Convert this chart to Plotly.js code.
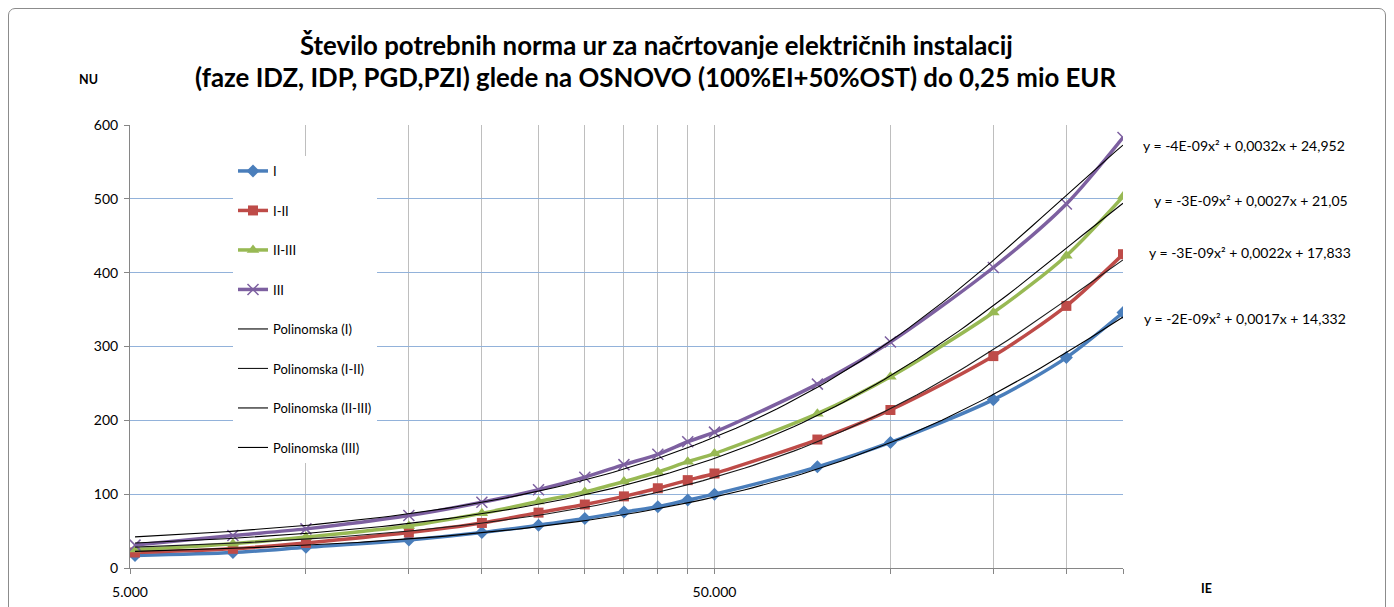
<!DOCTYPE html>
<html>
<head>
<meta charset="utf-8">
<script src="https://cdn.plot.ly/plotly-3.0.1.min.js"></script>
<style>
  html, body { margin: 0; padding: 0; background: #fff; }
  #wrap { position: relative; width: 1394px; height: 607px; overflow: hidden; }
  #chart { width: 1394px; height: 607px; }
  #frame { position: absolute; left: 8px; top: 8px; width: 1376px; height: 640px;
           border: 1px solid #8c8c8c; border-radius: 7px; pointer-events: none; }
</style>
</head>
<body>
<div id="wrap"><div id="chart"></div><div id="frame"></div></div>
<script>
// ---- data ----
const ieValues = [5100, 7500, 10000, 15000, 20000, 25000, 30000, 35000, 40000, 45000, 50000, 75000, 100000, 150000, 200000, 250000];
const seriesNames = ['I', 'I-II', 'II-III', 'III'];
const nuI    = [17, 21, 28, 38, 48, 58, 67, 76, 83, 92, 100, 137, 170, 228, 285, 346];
const nuI_II = [21, 26, 34, 48, 61, 75, 86, 97, 108, 119, 128, 174, 214, 287, 355, 425];
const nuII_III = [25, 33, 42, 57, 74, 90, 103, 117, 130, 144, 155, 209, 259, 346, 423, 503];
const nuIII  = [31, 44, 53, 71, 89, 106, 123, 140, 154, 171, 184, 249, 306, 407, 493, 583];
const trendNames = ['Polinomska (I)', 'Polinomska (I-II)', 'Polinomska (II-III)', 'Polinomska (III)'];
const equations = [
  'y = -2E-09x² + 0,0017x + 14,332',
  'y = -3E-09x² + 0,0022x + 17,833',
  'y = -3E-09x² + 0,0027x + 21,05',
  'y = -4E-09x² + 0,0032x + 24,952'
];
const titleLines = [
  'Število potrebnih norma ur za načrtovanje električnih instalacij',
  '(faze IDZ, IDP, PGD,PZI) glede na OSNOVO (100%EI+50%OST) do 0,25 mio EUR'
];
const xTickVals = [5000, 10000, 15000, 20000, 25000, 30000, 35000, 40000, 45000, 50000, 100000, 150000, 200000, 250000];
const xTickText = ['5.000', '', '', '', '', '', '', '', '', '50.000', '', '', '', ''];
const yTickVals = [0, 100, 200, 300, 400, 500, 600];

// ---- styles ----
const FONT = 'Lato, "Open Sans", "DejaVu Sans", sans-serif';
const colors = ['#4A7EBB', '#BE4B48', '#98B954', '#7D60A0'];
const trendColors = ['#000000', '#1a1a1a', '#000000', '#000000'];
const symbols = ['diamond', 'square', 'triangle-up', 'x-thin'];
const msizes = [10, 10, 11, 11];
const eqY = [318, 252, 200, 145];
const eqX = [1143, 1148, 1153, 1142];
const titleY = [45, 77];

const allSeries = [nuI, nuI_II, nuII_III, nuIII];

// least-squares quadratic (Excel polynomial trendline, order 2)
function polyfit2(xs, ys) {
  const s = 1e5;
  let S = [0,0,0,0,0], T = [0,0,0];
  for (let i = 0; i < xs.length; i++) {
    const x = xs[i] / s, y = ys[i];
    let p = 1;
    for (let k = 0; k < 5; k++) { S[k] += p; if (k < 3) T[k] += p * y; p *= x; }
  }
  const A = [[S[0],S[1],S[2],T[0]],[S[1],S[2],S[3],T[1]],[S[2],S[3],S[4],T[2]]];
  for (let i = 0; i < 3; i++) {
    for (let j = i + 1; j < 3; j++) {
      const f = A[j][i] / A[i][i];
      for (let k = i; k < 4; k++) A[j][k] -= f * A[i][k];
    }
  }
  const c = [0,0,0];
  for (let i = 2; i >= 0; i--) {
    let v = A[i][3];
    for (let k = i + 1; k < 3; k++) v -= A[i][k] * c[k];
    c[i] = v / A[i][i];
  }
  return x => c[0] + c[1] * (x / s) + c[2] * (x / s) * (x / s);
}

const traces = [];
allSeries.forEach((ys, i) => {
  traces.push({
    type: 'scatter', mode: 'lines+markers', name: seriesNames[i],
    x: ieValues, y: ys, legendgroup: 'g' + i,
    line: { color: colors[i], width: 3.5, shape: 'spline', smoothing: 0.8 },
    marker: { symbol: symbols[i], size: msizes[i], color: colors[i],
              line: { color: colors[i], width: symbols[i] === 'x-thin' ? 1.5 : 0 } }
  });
});
allSeries.forEach((ys, i) => {
  const f = polyfit2(ieValues, ys);
  const lx0 = Math.log10(ieValues[0]), lx1 = Math.log10(ieValues[ieValues.length - 1]);
  const tx = [], ty = [];
  const n = 120;
  for (let k = 0; k <= n; k++) {
    const xv = Math.pow(10, lx0 + (lx1 - lx0) * k / n);
    tx.push(xv); ty.push(f(xv));
  }
  traces.push({
    type: 'scatter', mode: 'lines', name: trendNames[i], legendgroup: 't' + i,
    x: tx, y: ty, line: { color: trendColors[i], width: 1.1 }, hoverinfo: 'skip'
  });
});

const annotations = equations.map((t, i) => ({
  text: t, xref: 'paper', yref: 'paper', x: (eqX[i] - 130) / (1123 - 130), xanchor: 'left',
  y: (568 - eqY[i]) / 443, yanchor: 'middle', showarrow: false, borderpad: 0,
  font: { family: FONT, size: 14, color: '#000' }
}));
titleLines.forEach((t, i) => annotations.push({
  text: '<b>' + t + '</b>', xref: 'paper', yref: 'paper', x: (656 - 130) / 993, xanchor: 'center',
  y: (568 - titleY[i]) / 443, yanchor: 'middle', showarrow: false, borderpad: 0,
  font: { family: FONT, size: 25.8, color: '#000' }
}));
annotations.push({ text: '<b>NU</b>', xref: 'paper', yref: 'paper', x: (88 - 130) / 993, y: (568 - 80) / 443,
  xanchor: 'center', yanchor: 'middle', showarrow: false, font: { family: FONT, size: 12.5, color: '#000' } });
annotations.push({ text: '<b>IE</b>', xref: 'paper', yref: 'paper', x: (1206 - 130) / 993, y: (568 - 588) / 443,
  xanchor: 'center', yanchor: 'middle', showarrow: false, font: { family: FONT, size: 12.5, color: '#000' } });

const layout = {
  width: 1394, height: 607,
  margin: { l: 130, r: 271, t: 125, b: 39, pad: 0 },
  paper_bgcolor: '#ffffff', plot_bgcolor: '#ffffff',
  font: { family: FONT, size: 13, color: '#000' },
  showlegend: true,
  legend: {
    x: (233 - 130) / 993, xanchor: 'left', y: (568 - 156) / 443, yanchor: 'top',
    bgcolor: '#ffffff', borderwidth: 0, tracegroupgap: 19.6,
    font: { family: FONT, size: 13, color: '#000' }, itemwidth: 30
  },
  xaxis: {
    type: 'log', range: [Math.log10(5000), Math.log10(250000)],
    tickvals: xTickVals, ticktext: xTickText, tickmode: 'array',
    showgrid: true, gridcolor: '#BEBEBE', gridwidth: 1,
    showline: true, linecolor: '#868686', linewidth: 1,
    ticks: 'outside', ticklen: 5, tickcolor: '#868686',
    ticklabelstandoff: 6,
    tickfont: { family: FONT, size: 14, color: '#000' },
    zeroline: false, automargin: false, fixedrange: true
  },
  yaxis: {
    range: [0, 600], tickvals: yTickVals, tickmode: 'array',
    showgrid: true, gridcolor: '#92B2DA', gridwidth: 1,
    showline: true, linecolor: '#868686', linewidth: 1,
    ticks: 'outside', ticklen: 5, tickcolor: '#868686',
    ticklabelstandoff: 3,
    tickfont: { family: FONT, size: 14, color: '#000' },
    zeroline: false, automargin: false, fixedrange: true
  },
  annotations: annotations
};

Plotly.newPlot('chart', traces, layout, { displayModeBar: false, staticPlot: true });
</script>
</body>
</html>
